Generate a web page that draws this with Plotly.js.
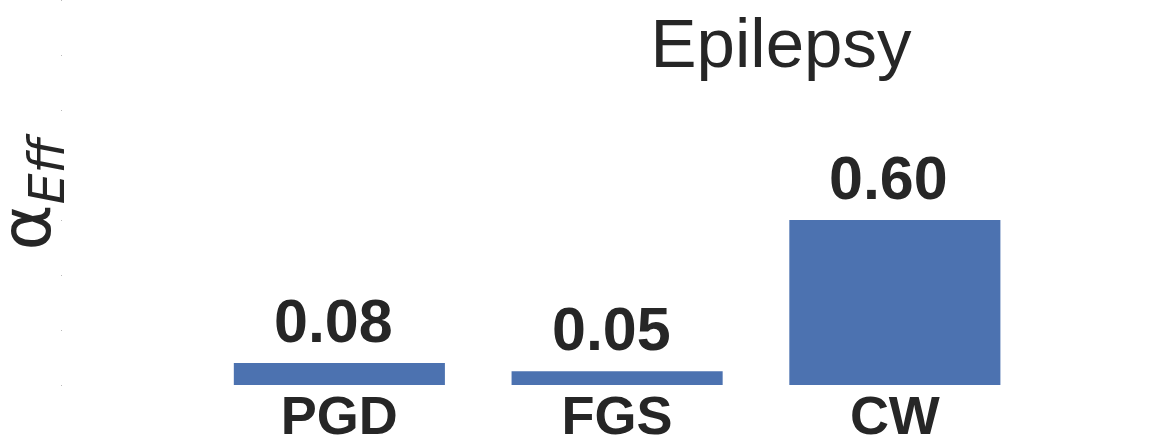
<!DOCTYPE html>
<html>
<head>
<meta charset="utf-8">
<script src="https://cdn.plot.ly/plotly-3.0.1.min.js"></script>
<style>html,body{margin:0;padding:0;background:#fff;}#chart{width:1159px;height:446px;}</style>
</head>
<body>
<div id="chart"></div>
<script>
const categories = ["PGD", "FGS", "CW"];
const values = [0.08, 0.05, 0.60];
const valueLabels = ["0.08", "0.05", "0.60"];
const yTickVals = [0, 0.2, 0.4, 0.6, 0.8, 1.0, 1.2, 1.4];
const chartTitle = "Epilepsy";
const yTitle = "α<sub><i>Eff</i></sub>";

const textColor = "#262626";
const barColor = "#4c72b0";

const trace = {
  type: "bar",
  x: categories,
  y: values,
  marker: {color: barColor, line: {width: 0}},
  hoverinfo: "skip"
};

const annotations = categories.map((c, i) => ({
  x: c, y: values[i], xref: "x", yref: "y",
  text: "<b>" + valueLabels[i] + "</b>",
  showarrow: false, yanchor: "bottom", yshift: 6, xshift: -6,
  font: {family: "Liberation Sans, Arial, sans-serif", size: 61, color: textColor}
}));

annotations.push({
  text: yTitle, xref: "paper", yref: "paper",
  x: (30 - 63) / 1096, y: 0.5, xanchor: "center", yanchor: "middle",
  textangle: -90, showarrow: false, borderpad: 0,
  font: {family: "DejaVu Sans, sans-serif", size: 70, color: textColor}
});

const layout = {
  width: 1159, height: 446,
  margin: {l: 63, r: 0, t: 0, b: 61, pad: 0},
  paper_bgcolor: "#ffffff", plot_bgcolor: "#ffffff",
  showlegend: false,
  bargap: 0.24,
  title: {
    text: chartTitle, xref: "container", x: 781/1159, xanchor: "center",
    yref: "container", y: 1 - 43/446, yanchor: "middle",
    font: {family: "Liberation Sans, Arial, sans-serif", size: 69, color: textColor}
  },
  xaxis: {
    type: "category", range: [-0.995, 2.951],
    showgrid: false, zeroline: false, showline: false, ticks: "",
    ticklabelstandoff: -6,
    tickfont: {family: "Liberation Sans, Arial, sans-serif", size: 54, color: textColor},
    tickvals: categories, ticktext: categories.map(c => "<b>" + c + "</b>")
  },
  yaxis: {
    range: [0, 1.4], tickvals: yTickVals, showticklabels: false,
    ticks: "outside", ticklen: 1, tickwidth: 1, tickcolor: "#bbbbbb",
    showgrid: false, zeroline: false, showline: false
  },
  annotations: annotations
};

Plotly.newPlot("chart", [trace], layout, {displayModeBar: false, staticPlot: true});
</script>
</body>
</html>
